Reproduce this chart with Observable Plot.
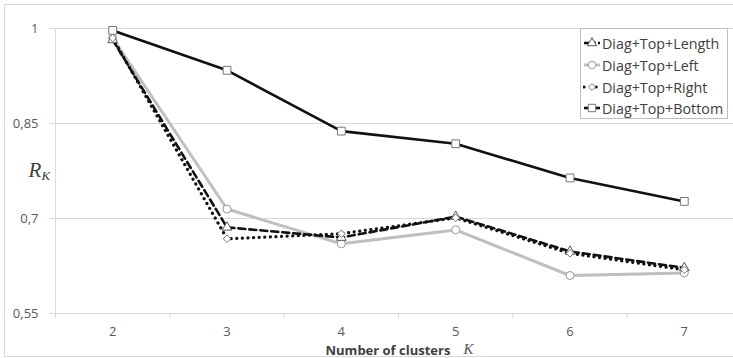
<!DOCTYPE html>
<html>
<head>
<meta charset="utf-8">
<script src="https://cdn.jsdelivr.net/npm/d3@7"></script>
<script src="https://cdn.jsdelivr.net/npm/@observablehq/plot@0.6"></script>
<style>
  body { margin: 0; overflow: hidden; background: #fff; }
  #frame { position: absolute; left: 4px; top: 4px; width: 760px; height: 351px; border: 1px solid #d9d9d9; }
  #chart { position: absolute; left: 0; top: 0; }
  #legend { position: absolute; left: 575px; top: 23px; width: 146px; height: 89px; border: 1px solid #bfbfbf; background: #fff;
            font-family: "Open Sans", sans-serif; font-size: 14.3px; color: #404040; }
  .row { position: absolute; left: 2px; height: 20px; display: flex; align-items: center; white-space: nowrap; }
  .row svg { margin-right: 1px; }
</style>
</head>
<body>
<div id="frame">
  <div id="chart"></div>
  <div id="legend"></div>
</div>
<script>
// Number of clusters K
const clusters = [2, 3, 4, 5, 6, 7];

// R_K for each feature combination
const diagTopLength = [0.982, 0.686, 0.670, 0.703, 0.648, 0.622];
const diagTopLeft   = [0.985, 0.715, 0.660, 0.682, 0.610, 0.614];
const diagTopRight  = [0.985, 0.668, 0.676, 0.701, 0.645, 0.619];
const diagTopBottom = [0.997, 0.934, 0.838, 0.818, 0.764, 0.727];

const seriesNames = ["Diag+Top+Length", "Diag+Top+Left", "Diag+Top+Right", "Diag+Top+Bottom"];

// Value axis ticks and their labels (decimal comma)
const yTicks = [0.55, 0.7, 0.85, 1];
const yTickLabels = ["0,55", "0,7", "0,85", "1"];

const xTitle = "Number of clusters";
const xTitleVar = "K";
const yTitle = "R";
const yTitleSub = "K";

const toRows = (values) => clusters.map((k, i) => ({k, v: values[i]}));
const rowsLength = toRows(diagTopLength);
const rowsLeft = toRows(diagTopLeft);
const rowsRight = toRows(diagTopRight);
const rowsBottom = toRows(diagTopBottom);

// category slots run from half a step before the first to half a step after the last
const xDomain = [d3.min(clusters) - 0.5, d3.max(clusters) + 0.5];
const slotEdges = d3.range(xDomain[0], xDomain[1] + 0.01, 1);

const gridColor = "#d9d9d9";
const labelColor = "#595959";
const font = "Open Sans, sans-serif";
const serif = "Liberation Serif, DejaVu Serif, serif";

const chart = Plot.plot({
  width: 740,
  height: 351,
  marginLeft: 50,
  marginRight: 4,
  marginTop: 23,
  marginBottom: 43,
  style: {fontFamily: font, background: "transparent", overflow: "visible"},
  x: {domain: xDomain, axis: null},
  y: {domain: [yTicks[0], yTicks[yTicks.length - 1]], axis: null},
  marks: [
    Plot.gridY(yTicks, {stroke: gridColor, strokeOpacity: 1}),
    Plot.ruleX([xDomain[0]], {y1: yTicks[0], y2: yTicks[yTicks.length - 1], stroke: gridColor}),
    Plot.axisY(yTicks, {
      tickSize: 6, tickPadding: 11, stroke: gridColor, fill: labelColor, fontSize: 13,
      tickFormat: d => yTickLabels[yTicks.indexOf(d)], label: null
    }),
    Plot.axisX(slotEdges, {tickSize: 5, stroke: gridColor, tickFormat: () => "", label: null}),
    Plot.axisX(clusters, {tickSize: 0, tickPadding: 13, fill: labelColor, fontSize: 13, tickFormat: d => String(d), label: null}),

    // Diag+Top+Left: grey solid, open circles
    Plot.line(rowsLeft, {x: "k", y: "v", stroke: "#bfbfbf", strokeWidth: 3}),
    // Diag+Top+Length: black dashed, open triangles
    Plot.line(rowsLength, {x: "k", y: "v", stroke: "#111", strokeWidth: 2.6, strokeDasharray: "7,4"}),
    // Diag+Top+Right: black round dots, open diamonds
    Plot.line(rowsRight, {x: "k", y: "v", stroke: "#111", strokeWidth: 3.2, strokeDasharray: "0.1,5.5", strokeLinecap: "round"}),
    // Diag+Top+Bottom: black solid, open squares
    Plot.line(rowsBottom, {x: "k", y: "v", stroke: "#111", strokeWidth: 2.6}),

    Plot.dot(rowsLeft, {x: "k", y: "v", symbol: "circle", r: 4, fill: "#fff", stroke: "#9a9a9a", strokeWidth: 1}),
    Plot.dot(rowsLength, {x: "k", y: "v", symbol: "triangle", r: 3.6, fill: "#fff", stroke: "#555", strokeWidth: 1}),
    Plot.dot(rowsRight, {x: "k", y: "v", symbol: "diamond2", r: 3.4, fill: "#fff", stroke: "#777", strokeWidth: 1}),
    Plot.dot(rowsBottom, {x: "k", y: "v", symbol: "square", r: 4.4, fill: "#fff", stroke: "#777", strokeWidth: 1}),

    // axis titles
    Plot.text([xTitle], {frameAnchor: "bottom-left", dx: 270, dy: 41, textAnchor: "start", lineAnchor: "bottom",
                         fontWeight: "bold", fontSize: 13, fill: "#404040"}),
    Plot.text([xTitleVar], {frameAnchor: "bottom-left", dx: 408, dy: 40, textAnchor: "start", lineAnchor: "bottom",
                            fontStyle: "italic", fontFamily: serif, fontSize: 15, fill: labelColor}),
    Plot.text([yTitle], {frameAnchor: "left", dx: -27, dy: 6, textAnchor: "start", lineAnchor: "bottom",
                         fontStyle: "italic", fontFamily: serif, fontSize: 21, fill: "#404040"}),
    Plot.text([yTitleSub], {frameAnchor: "left", dx: -14, dy: 9, textAnchor: "start", lineAnchor: "bottom",
                            fontStyle: "italic", fontFamily: serif, fontSize: 13, fill: "#404040"})
  ]
});
document.getElementById("chart").appendChild(chart);

// Legend
const swatches = [
  {line: {stroke: "#111", width: 2.6, dash: "5,2"}, sym: "triangle", symStroke: "#555"},
  {line: {stroke: "#bfbfbf", width: 3, dash: null}, sym: "circle", symStroke: "#9a9a9a"},
  {line: {stroke: "#111", width: 3.2, dash: "0.1,12", cap: "round"}, sym: "diamond2", symStroke: "#777"},
  {line: {stroke: "#111", width: 2.6, dash: null}, sym: "square", symStroke: "#777"}
];
const symbolTypes = {triangle: d3.symbolTriangle, circle: d3.symbolCircle, diamond2: d3.symbolDiamond2, square: d3.symbolSquare};
const symbolSizes = {triangle: 38, circle: 45, diamond2: 32, square: 55};
const rowTops = [4, 26, 48, 69];
const legend = d3.select("#legend");
seriesNames.forEach((name, i) => {
  const s = swatches[i];
  const row = legend.append("div").attr("class", "row").style("top", rowTops[i] + "px");
  const svg = row.append("svg").attr("width", 18).attr("height", 12);
  svg.append("line").attr("x1", 1).attr("x2", 17).attr("y1", 6).attr("y2", 6)
    .attr("stroke", s.line.stroke).attr("stroke-width", s.line.width)
    .attr("stroke-dasharray", s.line.dash).attr("stroke-linecap", s.line.cap || "butt");
  svg.append("path").attr("transform", "translate(9,6)")
    .attr("d", d3.symbol(symbolTypes[s.sym], symbolSizes[s.sym])())
    .attr("fill", "#fff").attr("stroke", s.symStroke);
  row.append("span").text(name);
});
</script>
</body>
</html>
